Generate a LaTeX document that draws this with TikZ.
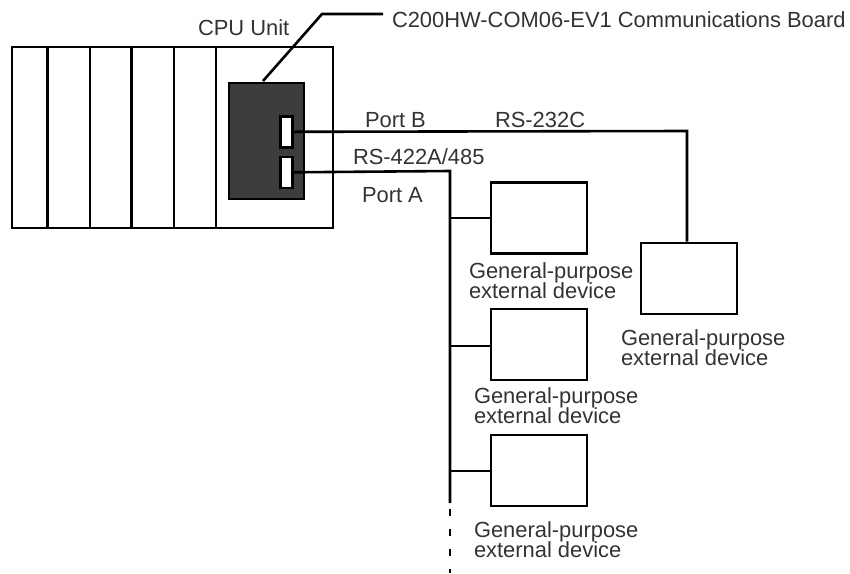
\documentclass[tikz,border=0pt]{standalone}
\usepackage{fontspec}
\usetikzlibrary{patterns}
\setmainfont{Liberation Sans}
\definecolor{inkc}{gray}{0.2}
\tikzset{
  x=1pt,y=-1pt,
  lab/.style={anchor=base west,inner sep=0pt,outer sep=0pt,text=inkc,font=\fontsize{21.9}{24}\selectfont},
  devbox/.style={draw=black,line width=2.8pt,fill=white,minimum width=96pt,minimum height=71pt,inner sep=0pt,anchor=north west},
  wire/.style={draw=black,line width=2.6pt},
  slotline/.style={draw=black,line width=2.8pt},
  board/.style={draw=black,line width=2.6pt,fill=black!76,minimum width=75pt,minimum height=116pt,inner sep=0pt,anchor=north west},
  portbox/.style={draw=black,line width=2.6pt,fill=white,minimum width=12pt,minimum height=31pt,inner sep=0pt,anchor=north west},
}
\begin{document}
\begin{tikzpicture}
\useasboundingbox (0,0) rectangle (850,573);
% rack
\node[draw=black,line width=2.4pt,minimum width=321pt,minimum height=181pt,inner sep=0pt,anchor=north west] (rack) at (11,46) {};
\foreach \n/\xx in {a/47.5,b/90,c/131.5,d/174,e/216}{
  \coordinate (top\n) at (\xx,46);
  \coordinate (bot\n) at (\xx,227);
  \draw[slotline] (top\n) -- (bot\n);
}
% board
\node[board] (cb) at (227.5,81.5) {};
\node[portbox] (pb) at (279,115) {};
\node[portbox] (pa) at (279,155.5) {};
% leader
\coordinate (lead1) at (322,14);
\coordinate (lead2) at (383,14);
\coordinate (leadstart) at (263,81);
\draw[wire] (leadstart) -- (lead1) -- (lead2);
% devices
\node[devbox] (da) at (489.5,181) {};
\node[devbox] (db) at (489.5,307.5) {};
\node[devbox] (dc) at (489.5,433.5) {};
\node[devbox] (dr) at (639.5,241.5) {};
% port B wire
\coordinate (bcorner) at (687,131);
\draw[wire] (pb.east) -- (bcorner) -- (dr.north -| bcorner);
% port A wire and bus
\coordinate (acorner) at (450,171);
\coordinate (busend) at (450,503);
\coordinate (tail) at (450,573);
\draw[wire] (pa.east) -- (acorner) -- (busend);
\draw[wire,dash pattern=on 7pt off 13pt,dash phase=-6pt] (busend) -- (tail);
\coordinate (sa) at (450,218);
\coordinate (sb) at (450,346);
\coordinate (sc) at (450,471);
\draw[wire] (sa) -- (da.west |- sa);
\draw[wire] (sb) -- (db.west |- sb);
\draw[wire] (sc) -- (dc.west |- sc);
% labels
\node[lab] (t1) at (392,27) {C200HW-COM06-EV1 Communications Board};
\node[lab] (t2) at (198,35) {CPU Unit};
\node[lab] (t3) at (365,127) {Port B};
\node[lab] (t4) at (495,127) {RS-232C};
\node[lab] (t5) at (353,164) {RS-422A/485};
\node[lab] (t6) at (362,202) {Port A};
\node[lab] (la1) at (469,278) {General-purpose};
\node[lab] (la2) at (469,298) {external device};
\node[lab] (lb1) at (474,403) {General-purpose};
\node[lab] (lb2) at (474,423) {external device};
\node[lab] (lc1) at (474,537) {General-purpose};
\node[lab] (lc2) at (474,557) {external device};
\node[lab] (lr1) at (621,345) {General-purpose};
\node[lab] (lr2) at (621,365) {external device};
\end{tikzpicture}
\end{document}
